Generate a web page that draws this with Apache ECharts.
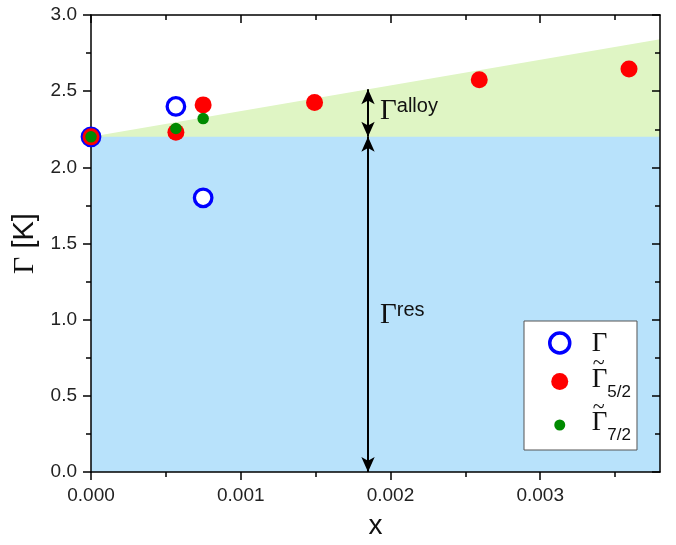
<!DOCTYPE html>
<html><head><meta charset="utf-8">
<script src="https://cdn.jsdelivr.net/npm/echarts@6/dist/echarts.min.js"></script>
<style>html,body{margin:0;padding:0;background:#fff}#c{width:676px;height:545px}</style>
</head><body><div id="c"></div>
<script>
// ---- data ----
const gammaX = [0, 0.000567, 0.000749];
const gammaY = [2.20, 2.40, 1.80];
const g52X = [0, 0.000567, 0.000749, 0.001493, 0.002593, 0.003593];
const g52Y = [2.20, 2.23, 2.41, 2.425, 2.575, 2.645];
const g72X = [0, 0.000567, 0.000749];
const g72Y = [2.20, 2.255, 2.32];
const bandX = [0, 0.0038];
const resLevel = [2.2, 2.2];
const alloyTop = [2.2, 2.84];
const arrowX = 0.00185;
const alloyArrowY = [2.2, 2.512];
const resArrowY = [2.2, 0];
const annoAlloy = [0.00185, 2.365];
const annoRes = [0.00185, 1.025];
const xTickValues = [0, 0.001, 0.002, 0.003];
const xTickLabels = ['0.000', '0.001', '0.002', '0.003'];
const yTickLabels = ['0.0', '0.5', '1.0', '1.5', '2.0', '2.5', '3.0'];
const seriesNames = ['Γ', 'Γ̃5/2', 'Γ̃7/2'];

const zip = (a, b) => a.map((v, i) => [v, b[i]]);

const axisCommon = {
  axisLine: { show: true, onZero: false, lineStyle: { color: '#000', width: 1.5 } },
  splitLine: { show: false },
  z: 3
};
const tickStyle = { color: '#000', width: 1.5 };

const chart = echarts.init(document.getElementById('c'), null, { renderer: 'canvas' });
chart.setOption({
  animation: false,
  backgroundColor: '#fff',
  grid: { left: 91, right: 16, top: 15, bottom: 72, show: false },
  xAxis: [
    Object.assign({}, axisCommon, {
      type: 'value', position: 'bottom', min: 0, max: 0.0038, interval: 0.001,
      axisTick: { show: true, length: 8, lineStyle: tickStyle, customValues: xTickValues },
      minorTick: { show: true, splitNumber: 2, length: 5, lineStyle: tickStyle },
      axisLabel: {
        fontSize: 19, fontFamily: 'Liberation Sans', color: '#222', margin: 14,
        customValues: xTickValues,
        formatter: v => { const i = xTickValues.findIndex(t => Math.abs(t - v) < 1e-9); return i >= 0 ? xTickLabels[i] : ''; }
      },
      name: 'x', nameLocation: 'middle', nameGap: 40,
      nameTextStyle: { fontSize: 28, fontFamily: 'Liberation Sans', color: '#111' }
    }),
    Object.assign({}, axisCommon, {
      type: 'value', position: 'top', min: 0, max: 0.0038, interval: 0.001,
      axisTick: { show: true, inside: true, length: 8, lineStyle: tickStyle, customValues: xTickValues },
      minorTick: { show: true, splitNumber: 2, length: 5, lineStyle: tickStyle },
      axisLabel: { show: false }
    })
  ],
  yAxis: [
    Object.assign({}, axisCommon, {
      type: 'value', position: 'left', min: 0, max: 3, interval: 0.5,
      axisTick: { show: true, length: 8, lineStyle: tickStyle },
      minorTick: { show: true, splitNumber: 2, length: 5, lineStyle: tickStyle },
      axisLabel: {
        fontSize: 19, fontFamily: 'Liberation Sans', color: '#222', margin: 14,
        formatter: v => yTickLabels[Math.round(v / 0.5)]
      },
      name: '{G|Γ} [K]', nameLocation: 'middle', nameGap: 45,
      nameTextStyle: {
        fontSize: 29, fontFamily: 'Liberation Sans', color: '#111',
        rich: { G: { fontSize: 30, fontFamily: 'Liberation Serif', color: '#111' } }
      }
    }),
    Object.assign({}, axisCommon, {
      type: 'value', position: 'right', min: 0, max: 3, interval: 0.5,
      axisTick: { show: true, inside: true, length: 8, lineStyle: tickStyle },
      minorTick: { show: true, splitNumber: 2, length: 5, lineStyle: tickStyle },
      axisLabel: { show: false }
    })
  ],
  legend: {
    orient: 'vertical', left: 524, top: 321,
    padding: [6, 6, 6, 22], itemGap: -4.5, itemWidth: 54, itemHeight: 24,
    backgroundColor: '#fff', borderColor: '#555', borderWidth: 1, borderRadius: 0,
    selectedMode: false,
    data: [
      { name: seriesNames[0], icon: 'path://M0 0M24 24M2 12A10 10 0 1 1 22 12A10 10 0 1 1 2 12Z',
        itemStyle: { color: '#fff', borderColor: '#0000ff', borderWidth: 3.5 } },
      { name: seriesNames[1], icon: 'path://M0 0M24 24M3.5 12A8.5 8.5 0 1 1 20.5 12A8.5 8.5 0 1 1 3.5 12Z',
        itemStyle: { color: '#ff0000', borderWidth: 0 } },
      { name: seriesNames[2], icon: 'path://M0 0M24 24M6.5 12A5.5 5.5 0 1 1 17.5 12A5.5 5.5 0 1 1 6.5 12Z',
        itemStyle: { color: '#008a00', borderWidth: 0 } }
    ],
    formatter: name => {
      if (name === seriesNames[0]) return '{G0|Γ}';
      const sub = name === seriesNames[1] ? '5/2' : '7/2';
      return '{T|~}\n{G|Γ}{S|' + sub + '}';
    },
    textStyle: {
      color: '#111',
      rich: {
        G0: { fontFamily: 'Liberation Serif', fontSize: 27, lineHeight: 32, verticalAlign: 'top', padding: [3, 0, 0, 0], color: '#111' },
        T: { fontFamily: 'Liberation Serif', fontSize: 22, lineHeight: 2, verticalAlign: 'middle', padding: [0, 0, 0, 1], color: '#111' },
        G: { fontFamily: 'Liberation Serif', fontSize: 27, lineHeight: 36, verticalAlign: 'top', padding: [1.5, 0, 0, 0], color: '#111' },
        S: { fontFamily: 'Liberation Sans', fontSize: 17, lineHeight: 36, verticalAlign: 'bottom', color: '#111' }
      }
    }
  },
  series: [
    {
      type: 'line', name: 'alloyBand', data: zip(bandX, alloyTop), symbol: 'none', silent: true,
      lineStyle: { width: 0 }, areaStyle: { color: '#dff5c4', opacity: 1, origin: 'start' }, z: 1
    },
    {
      type: 'line', name: 'resBand', data: zip(bandX, resLevel), symbol: 'none', silent: true,
      lineStyle: { width: 0 }, areaStyle: { color: '#b8e2fb', opacity: 1, origin: 'start' }, z: 2,
      markLine: {
        silent: true, symbol: ['arrow', 'arrow'], symbolSize: [10, 15],
        lineStyle: { color: '#000', width: 2, type: 'solid' }, label: { show: false },
        data: [
          [{ coord: [arrowX, alloyArrowY[0]] }, { coord: [arrowX, alloyArrowY[1]] }],
          [{ coord: [arrowX, resArrowY[0]] }, { coord: [arrowX, resArrowY[1]] }]
        ]
      },
      markPoint: {
        silent: true, symbol: 'circle', symbolSize: 0,
        label: {
          show: true, position: 'right', distance: 12,
          formatter: p => p.name === 'alloy' ? '{G|Γ}{P|alloy}' : '{G|Γ}{P|res}',
          rich: {
            G: { fontFamily: 'Liberation Serif', fontSize: 29, lineHeight: 34, verticalAlign: 'top', padding: [2, 0, 0, 0], color: '#111' },
            P: { fontFamily: 'Liberation Sans', fontSize: 20, lineHeight: 34, verticalAlign: 'top', padding: [2, 0, 0, 0], color: '#111' }
          }
        },
        data: [
          { name: 'alloy', coord: annoAlloy },
          { name: 'res', coord: annoRes }
        ]
      }
    },
    {
      type: 'scatter', name: seriesNames[0], data: zip(gammaX, gammaY), symbol: 'circle', symbolSize: 17.5,
      itemStyle: { color: '#fff', borderColor: '#0000ff', borderWidth: 3.3, opacity: 1 }, z: 5, clip: false, silent: true
    },
    {
      type: 'scatter', name: seriesNames[1], data: zip(g52X, g52Y), symbol: 'circle', symbolSize: 17,
      itemStyle: { color: '#ff0000', opacity: 1 }, z: 6, clip: false, silent: true
    },
    {
      type: 'scatter', name: seriesNames[2], data: zip(g72X, g72Y), symbol: 'circle', symbolSize: 11.5,
      itemStyle: { color: '#008a00', opacity: 1 }, z: 7, clip: false, silent: true
    }
  ]
});
</script>
</body></html>
